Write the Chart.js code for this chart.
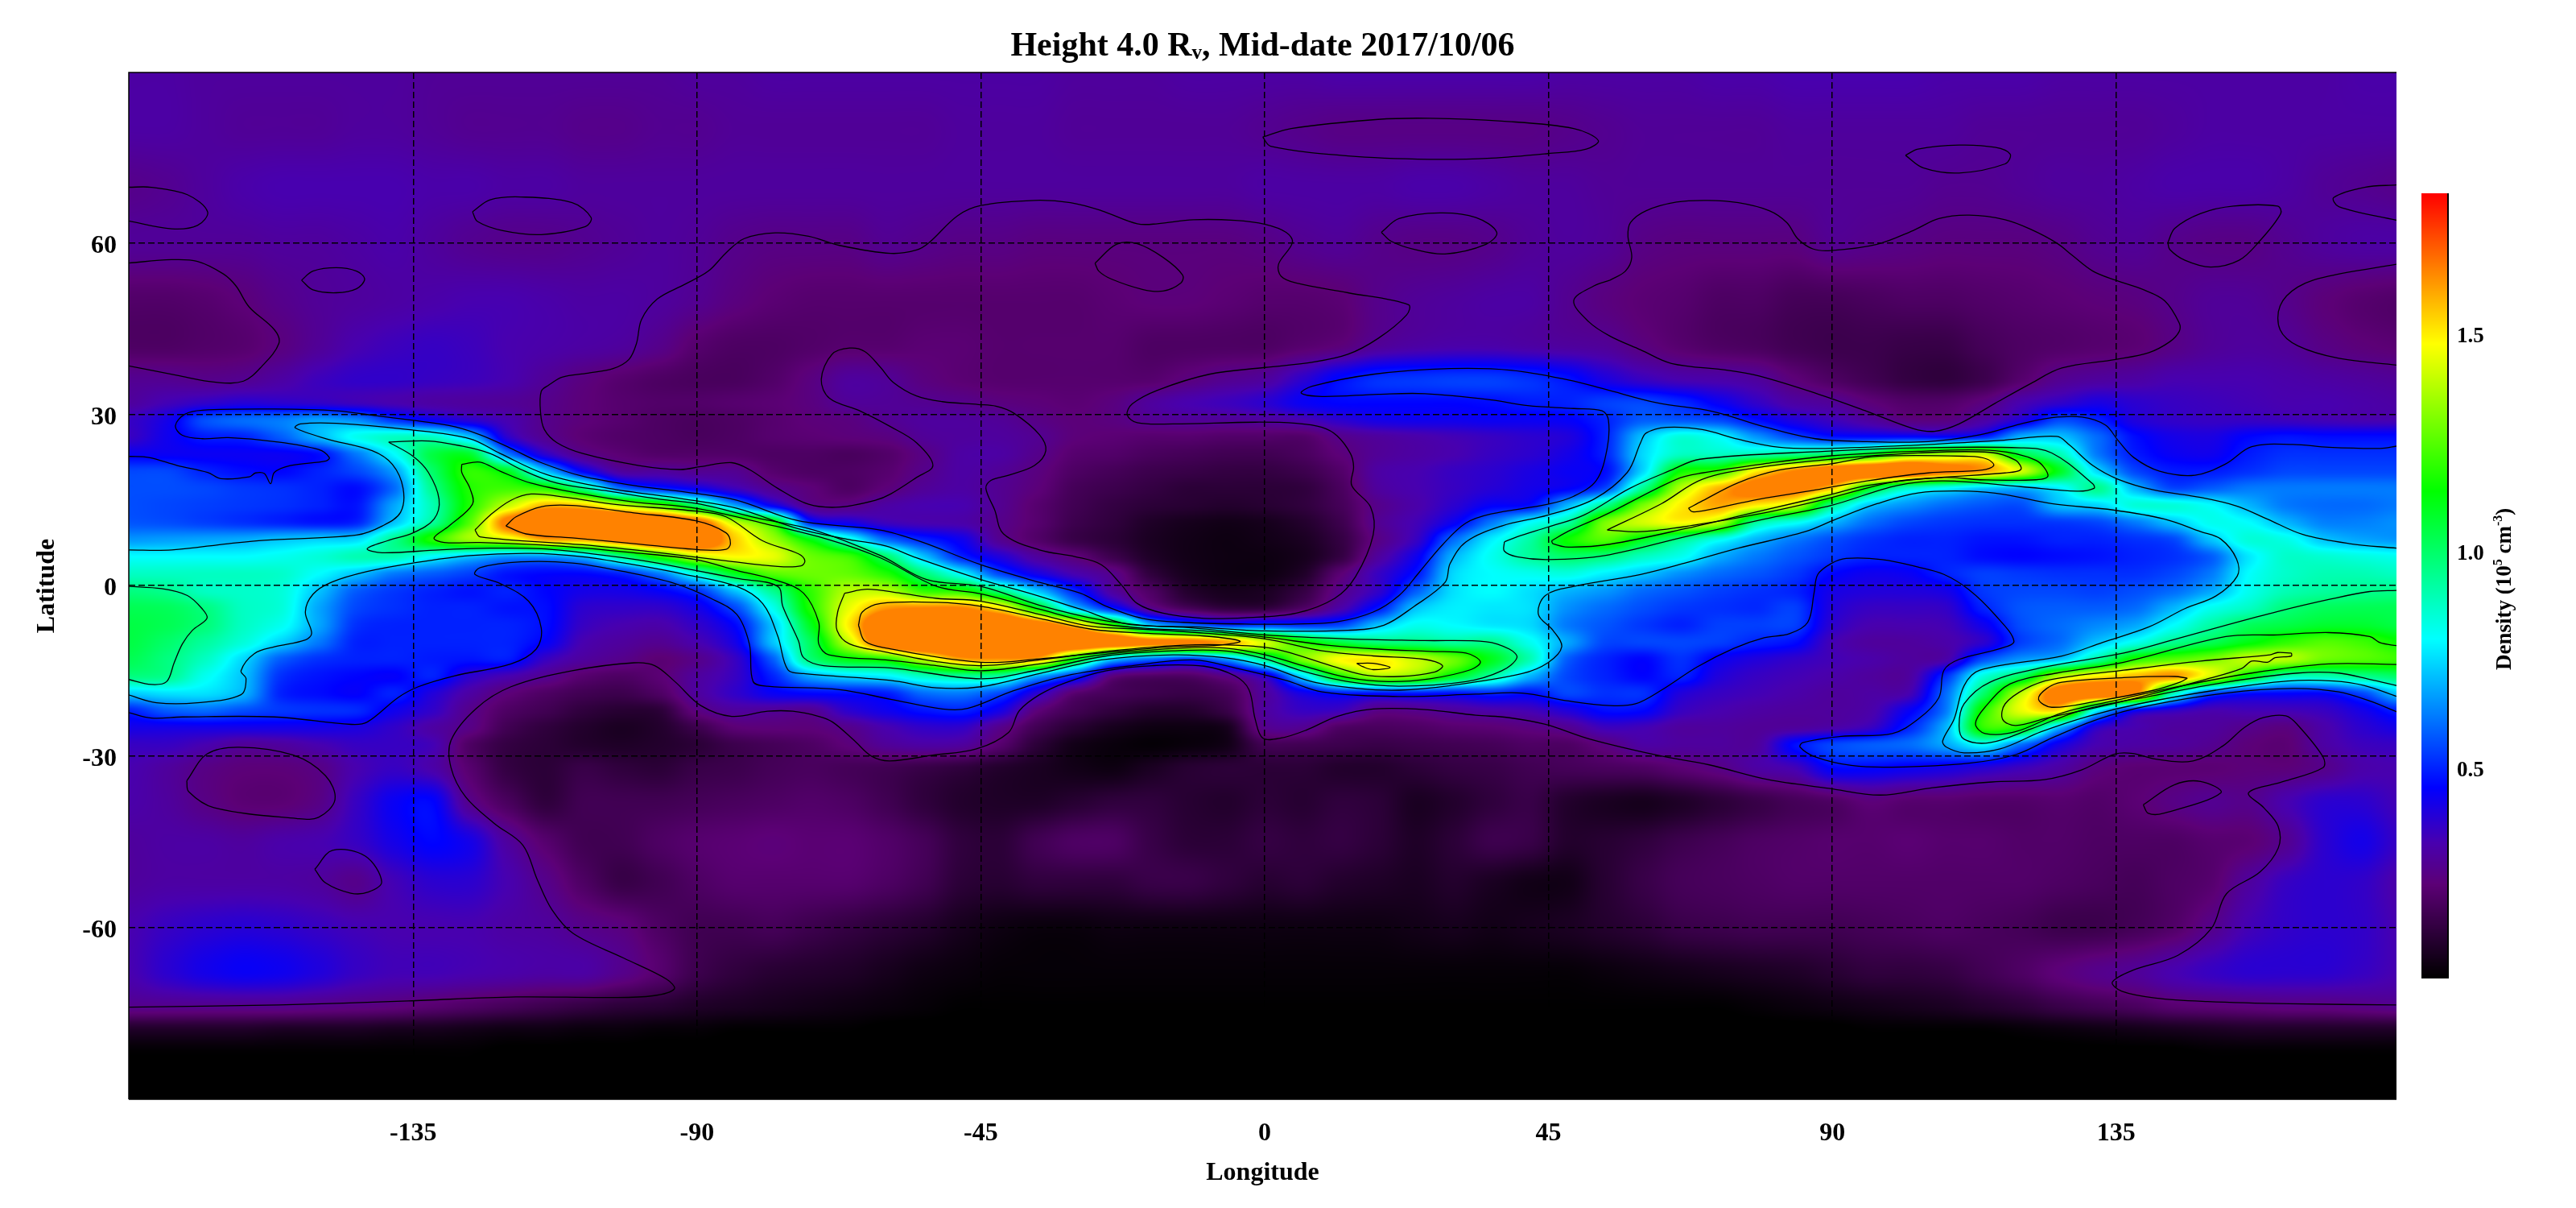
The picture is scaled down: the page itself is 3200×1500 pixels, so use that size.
<!DOCTYPE html>
<html>
<head>
<meta charset="utf-8">
<title>Height 4.0 Rv, Mid-date 2017/10/06</title>
<script src="https://cdn.jsdelivr.net/npm/chart.js@4"></script>
<style>
  body { margin: 0; background: #fff; }
  canvas { position: absolute; top: 0; }
  #map { left: 0; }
  #bar { left: 2990px; }
</style>
</head>
<body>
<canvas id="map" width="3200" height="1500"></canvas>
<canvas id="bar" width="210" height="1500"></canvas>
<script>
const lonTicks = [-135, -90, -45, 0, 45, 90, 135];
const latTicks = [-60, -30, 0, 30, 60];
const barTicks = [0.5, 1.0, 1.5];

const colorStops = [
  [0.018, 0, 0, 0], [0.235, 92, 0, 118], [0.33, 72, 0, 175], [0.457, 0, 0, 255], [0.8, 0, 255, 255],
  [1.14, 0, 255, 0], [1.48, 255, 255, 0], [1.827, 255, 0, 0]
];

const lons = [-180,-174,-168,-162,-156,-150,-144,-138,-132,-126,
  -120,-114,-108,-102,-96,-90,-84,-78,-72,-66,
  -60,-54,-48,-42,-36,-30,-24,-18,-12,-6,
  0,6,12,18,24,30,36,42,48,54,
  60,66,72,78,84,90,96,102,108,114,
  120,126,132,138,144,150,156,162,168,174,180];

const lats = [90,80,70,60,50,42,36,32,29,26,23,20,17,14,11,8,5,2,-1,-4,-7,-10,-13,-16,-19,-22,-25,-28,-32,-38,-45,-52,-60,-68,-74,-78,-82,-90];

// density x 100, one row per entry of lats, one value per entry of lons
const density = [
[31,31,30,30,30,30,30,30,29,29, 29,29,29,29,29,30,30,31,31,31, 31,31,31,31,31,30,30,30,31,31, 31,31,32,32,32,32,32,32,31,31, 31,31,32,32,33,33,33,33,32,32, 32,31,31,31,31,31,31,31,31,32, 32],
[31,31,30,29,29,29,30,30,29,28, 28,28,27,27,28,28,29,29,29,29, 29,29,30,30,30,29,29,29,29,29, 28,27,26,26,26,26,26,26,27,28, 29,29,29,29,30,30,30,30,30,29, 29,29,29,29,30,31,31,31,31,31, 31],
[27,28,30,32,33,33,33,33,32,32, 31,31,30,30,30,30,30,30,30,30, 30,30,30,30,30,30,30,30,30,30, 31,31,31,31,32,32,31,30,30,29, 29,29,29,29,29,29,29,29,28,28, 29,30,30,31,32,32,32,31,29,28, 27],
[29,29,29,29,30,30,31,32,30,28, 27,27,28,29,30,29,27,26,26,26, 28,27,26,26,25,25,25,25,25,25, 26,28,29,27,26,26,27,29,30,29, 26,25,25,25,25,28,27,26,25,25, 25,26,28,29,27,26,26,28,30,31, 31],
[21,21,22,24,27,29,30,31,32,33, 33,32,31,31,30,28,25,23,22,22, 22,22,22,22,22,22,23,24,24,23, 22,22,23,27,29,30,31,31,28,25, 23,22,20,20,18,18,19,20,20,21, 22,23,24,25,27,29,29,27,24,22, 21],
[20,20,21,22,25,29,33,35,36,35, 33,32,31,30,27,22,20,20,21,22, 22,23,23,22,22,22,22,20,20,20, 20,22,24,29,31,32,32,31,30,29, 25,22,20,19,17,16,16,15,15,18, 20,21,22,23,26,29,30,29,26,24, 23],
[28,28,27,28,31,35,37,37,36,35, 33,29,25,22,20,19,19,21,25,30, 29,25,23,22,22,22,22,22,25,28, 30,38,47,52,53,54,54,52,48,41, 36,33,32,30,24,20,17,14,13,16, 22,28,30,31,33,33,33,32,31,30, 29],
[30,34,37,39,38,37,35,33,31,30, 29,27,24,22,21,21,22,23,25,29, 29,28,27,25,24,23,25,30,33,35, 38,44,46,46,46,46,47,49,50,54, 55,51,44,37,31,29,24,21,21,25, 33,37,41,38,36,35,34,33,33,32, 31],
[36,42,56,60,62,67,64,52,44,38, 33,27,24,22,20,19,20,22,24,25, 28,30,30,29,26,24,25,28,29,29, 30,33,38,42,43,43,44,44,45,50, 58,57,55,47,40,35,30,25,25,31, 40,55,50,40,37,36,36,35,34,33, 33],
[36,43,49,50,58,70,82,88,88,72, 38,28,23,21,20,19,20,22,23,24, 25,29,30,30,28,24,23,22,22,21, 21,21,27,30,32,34,36,38,40,50, 72,85,80,66,55,48,47,47,46,50, 70,72,60,47,42,41,46,48,47,47, 47],
[44,44,44,44,44,47,62,80,105,108, 62,38,27,23,21,21,21,20,20,19, 21,26,31,31,27,22,21,19,18,17, 17,19,24,29,31,33,36,38,42,50, 75,88,88,90,95,100,110,130,135,140, 105,90,62,49,44,43,49,52,52,52, 52],
[55,55,50,47,46,50,55,67,100,120, 110,72,45,30,30,28,28,22,20,20, 22,27,31,29,25,20,18,16,15,14, 14,16,21,31,33,36,38,41,44,47, 75,115,120,150,165,180,185,185,170,160, 142,110,75,55,49,49,52,55,55,55, 55],
[56,56,55,53,52,50,47,60,95,118, 122,118,95,60,50,43,35,28,24,20, 24,29,31,28,24,18,16,14,12,12, 12,13,19,30,33,36,39,42,45,55, 95,138,158,172,170,155,110,88,80,73, 70,78,95,70,55,58,62,62,62,62, 62],
[56,55,54,53,52,50,48,68,90,118, 140,158,155,140,125,100,68,44,27,26, 31,33,33,28,22,17,14,12,11,10, 11,13,18,27,32,38,45,47,70,95, 130,150,160,150,140,95,72,65,60,57, 56,71,74,85,85,80,70,62,60,60, 62],
[57,56,54,52,50,48,50,72,93,125, 170,190,190,190,190,175,140,118,50,42, 35,33,32,27,22,16,13,9,7,6, 7,10,16,28,34,44,62,80,92,130, 142,148,138,93,82,70,60,55,53,52, 52,53,55,62,72,82,80,70,63,63, 65],
[66,67,68,69,72,74,75,95,118,135, 142,160,160,170,185,185,155,135,112,85, 60,50,43,28,21,15,12,8,6,5, 6,8,14,26,36,60,78,92,115,125, 110,95,82,70,62,56,52,50,50,48, 48,50,50,52,55,72,85,83,72,68, 66],
[80,80,80,80,82,85,90,90,80,72, 66,66,72,95,118,140,148,145,128,122, 100,72,50,40,30,24,16,9,6,5, 5,7,14,30,43,70,82,93,100,97, 88,82,69,62,57,53,50,50,50,47, 46,47,48,50,52,58,77,87,86,84, 82],
[88,88,88,88,87,80,72,62,58,54, 48,46,46,50,62,85,110,125,128,127, 118,98,80,55,42,33,27,13,7,5, 5,9,23,36,48,75,80,82,84,78, 72,65,60,57,53,46,43,44,50,54, 53,52,52,52,55,62,80,87,90,90, 88],
[97,95,88,87,85,72,58,53,50,48, 50,46,42,42,45,52,72,95,120,138, 138,120,118,97,72,50,30,20,10,7, 8,14,27,37,58,76,80,76,70,66, 60,57,54,52,50,42,40,40,42,53, 55,55,54,56,60,68,82,90,93,95, 96],
[103,102,97,88,85,68,55,52,50,50, 48,47,38,37,37,42,55,82,118,145, 162,165,165,150,112,72,48,27,18,13, 13,20,32,48,72,78,77,76,65,60, 56,53,52,51,54,40,36,36,37,50, 57,58,58,60,70,82,88,98,102,103, 103],
[105,103,98,88,82,68,52,50,50,50, 50,47,36,33,32,37,46,72,110,150, 185,190,190,190,175,155,120,72,60,52, 54,52,55,72,82,80,77,75,62,57, 53,50,54,54,54,38,33,33,34,43, 56,60,64,68,80,92,102,105,108,108, 105],
[105,100,93,85,74,62,50,50,50,50, 50,45,33,30,28,33,42,72,102,140, 180,190,190,190,190,190,180,170,168,160, 142,118,105,98,97,93,95,82,68,55, 55,55,54,50,47,34,30,30,32,38, 54,60,72,82,95,103,112,120,125,122, 115],
[103,97,88,75,58,52,50,50,49,48, 49,36,30,27,23,27,36,58,98,112, 118,140,160,162,158,112,72,60,52,66, 95,130,148,150,140,128,110,90,58,50, 46,52,44,40,37,34,32,30,32,56, 66,72,93,118,125,130,140,138,128,125, 122],
[97,95,82,72,52,48,46,45,50,38, 33,28,22,20,23,30,36,50,68,75, 78,88,93,92,68,50,24,20,20,26, 38,75,116,135,130,110,92,70,55,50, 46,50,40,36,34,32,30,30,52,85, 102,138,150,158,162,142,112,90,90,95, 100],
[73,76,76,70,50,47,45,50,40,31, 24,20,17,16,20,30,37,44,46,47, 49,60,62,55,38,22,18,16,15,18, 30,42,48,47,48,47,50,47,55,52, 52,40,36,34,32,30,31,33,60,100, 140,175,180,165,90,55,47,46,46,55, 73],
[50,58,60,56,53,52,51,43,37,27, 20,17,13,11,12,25,30,29,28,38, 43,48,50,42,24,17,13,10,10,15, 30,36,35,26,27,30,32,34,40,47, 46,36,33,31,30,30,32,44,62,118, 145,150,78,45,37,33,34,34,36,42, 50],
[42,42,42,42,42,42,41,37,31,26, 17,13,10,8,10,16,23,24,24,27, 33,37,37,27,17,11,7,5,5,7, 27,28,20,19,20,22,23,25,28,35, 34,30,30,29,30,32,36,50,70,120, 115,70,38,33,30,30,27,25,32,38, 42],
[36,36,33,29,30,33,36,36,34,20, 14,12,10,9,10,12,16,18,20,24, 29,31,30,22,12,6,4,3,4,6, 17,17,16,15,16,17,18,20,20,25, 31,30,30,30,47,55,58,60,68,80, 60,42,33,31,30,28,24,23,31,35, 36],
[33,30,26,24,24,26,33,36,32,22, 14,12,15,13,12,15,16,18,19,18, 17,15,13,10,8,6,5,8,11,12, 12,12,10,10,12,14,15,17,18,19, 20,23,26,31,34,46,46,44,42,39, 35,31,25,23,23,23,24,24,27,32, 33],
[32,30,26,23,23,26,36,44,46,27, 19,13,17,17,17,18,19,20,21,20, 17,13,10,9,9,11,13,13,11,10, 12,11,13,12,8,10,13,15,10,8, 7,9,12,15,18,20,24,22,22,21, 21,22,21,23,26,28,27,33,38,38, 34],
[30,31,31,30,32,33,36,42,46,42, 30,22,17,17,20,22,23,24,23,23, 21,18,13,12,17,20,20,15,12,12, 14,13,14,12,9,12,16,15,10,11, 13,16,18,20,21,22,22,23,22,22, 21,21,20,20,20,22,23,28,38,42, 36],
[30,31,31,31,31,30,27,34,38,38, 33,27,20,15,17,20,22,22,22,22, 20,17,12,11,13,13,13,15,15,13, 11,12,10,9,8,10,8,6,6,11, 15,18,19,20,21,21,21,21,21,21, 21,20,19,18,20,22,30,36,38,37, 32],
[33,36,38,39,38,36,34,33,33,33, 31,30,27,25,20,17,17,18,16,14, 12,10,7,5,4,4,5,5,5,5, 5,5,5,5,6,7,6,7,8,10, 12,15,16,17,17,17,18,19,20,19, 18,16,16,18,21,27,34,37,38,37, 33],
[33,38,42,44,43,40,36,34,34,33, 32,31,31,27,22,16,13,11,10,9, 7,5,4,3,3,3,3,3,3,3, 3,3,3,3,3,3,3,3,3,4, 5,6,7,8,9,11,13,13,14,17, 20,24,27,29,33,36,38,38,38,36, 33],
[27,27,27,27,27,26,25,24,22,20, 18,16,14,12,11,9,8,7,6,5, 4,3,2,2,2,2,2,2,2,2, 2,2,2,2,2,2,2,2,2,2, 2,2,2,3,4,5,6,7,8,10, 12,15,17,19,22,23,24,25,25,26, 27],
[9,9,9,9,8,8,8,7,7,6, 5,5,4,4,3,3,2,2,2,2, 1,1,1,1,1,1,1,1,1,1, 1,1,1,1,1,1,1,1,1,1, 1,1,1,1,1,1,2,2,2,2, 3,4,5,6,7,8,9,9,9,9, 9],
[2,2,2,2,2,2,2,2,2,2, 1,1,1,1,1,1,1,1,1,1, 1,1,1,1,1,1,1,1,1,1, 1,1,1,1,1,1,1,1,1,1, 1,1,1,1,1,1,1,1,1,1, 1,1,1,1,1,2,2,2,2,2, 2],
[1,1,1,1,1,1,1,1,1,1, 1,1,1,1,1,1,1,1,1,1, 1,1,1,1,1,1,1,1,1,1, 1,1,1,1,1,1,1,1,1,1, 1,1,1,1,1,1,1,1,1,1, 1,1,1,1,1,1,1,1,1,1, 1]
];

// contour lines as [lon, lat]
const northLoops = [
  [[-180.2,69.8],[-176.5,69.8],[-170.8,68.5],[-167.6,65.5],[-169.2,63.1],[-173.3,62.5],[-180.2,63.9]],
  [[-125.6,65.5],[-122.8,67.6],[-117.9,68.1],[-109.8,67.1],[-106.8,64.5],[-107.7,62.9],[-114.7,61.5],[-120.8,62.2],[-124.8,63.8],[-125.6,65.5]],
  [[-152.7,53.5],[-150.9,55.1],[-147.2,55.7],[-144,55.1],[-142.7,53.7],[-144,52],[-147.2,51.3],[-150.9,51.8],[-152.7,53.5]],
  [[-180.2,56.5],[-173.3,57.1],[-169.2,56.8],[-165.1,54.6],[-163.1,52.5],[-161,48.8],[-157,44.8],[-156.3,42.4],[-159,38.4],[-161.9,35.8],[-166.3,35.6],[-172.4,36.8],[-180.2,38.5]],
  [[-26.9,56.5],[-23.5,59.8],[-20.2,59.9],[-16.1,57.5],[-13,54.4],[-13.3,53],[-16.1,51.6],[-19.4,51.9],[-24.3,53.7],[-26.3,55.1],[-26.9,56.5]],
  [[-0.3,78.6],[4.2,80.1],[18,81.7],[26.2,81.9],[37.6,81.4],[49,80.1],[52.9,78],[51,76.5],[44.9,75.7],[35.9,74.9],[26.2,74.7],[13.2,75.3],[0.95,77],[-0.3,78.6]],
  [[18.5,61.9],[21.3,64.3],[27.8,65.3],[33.5,64.5],[36.8,61.9],[35.1,59.8],[28.6,58.1],[23.7,58.9],[20.1,60.3],[18.5,61.9]],
  [[101.6,75.4],[103.6,76.5],[110.1,77.2],[115.8,76.8],[118.2,75.6],[117.4,73.9],[110.1,72.3],[104.4,73.2],[101.6,75.4]],
  [[143.2,60.1],[144.3,62.6],[148.4,65.2],[153.6,66.5],[160.6,66.5],[161.1,65.2],[157.7,60.3],[154.5,57],[150,55.8],[145.9,57],[143.5,58.9],[143.2,60.1]],
  [[179.5,70.2],[174.4,69.8],[169.5,68],[170.3,66.4],[179.5,64]],
  [[179.5,56.3],[168.7,54.2],[163.8,52.3],[161,49],[161,44.8],[163.8,42],[170.3,39.8],[179.5,38.6]]
];
const southLoops = [
  [[-170.9,-34.3],[-167.7,-29.6],[-162.6,-28.4],[-154,-29.8],[-148.9,-33.4],[-147.4,-37.6],[-150,-40.7],[-153.5,-40.9],[-166.6,-39],[-170.6,-36.2],[-170.9,-34.3]],
  [[-150.6,-49.8],[-147.8,-46.5],[-142.6,-47.5],[-140,-52],[-142.1,-53.8],[-144.9,-54],[-148.9,-52.2],[-150.6,-49.8]],
  [[139.3,-38.5],[144.2,-35],[148.4,-34.4],[151.6,-36.4],[142.5,-40],[140.1,-40],[139.3,-38.5]]
];
const contourNorthWest = [[-113.4,35.2],[-111.4,36.5],[-107.3,37.2],[-103.3,38],[-100.8,39.6],[-99.6,42.4],[-98.8,46.6],[-96.3,50.2],[-91.9,52.8],[-88.2,55.1],[-85.3,58.4],[-82.5,60.8],[-77.6,61.8],[-72.3,61.2],[-67.4,59.6],[-59.3,58.2],[-55.2,58.8],[-53.2,60.1],[-48.7,64.8],[-45,66.6],[-36.5,67.5],[-30.8,67.1],[-25.9,65.7],[-20.2,63.4],[-17,63.4],[-11.3,64.1],[-4.7,64],[0.1,63.3],[3.4,61.9],[4.4,60.1],[2.2,56.3],[2.6,54.2],[5,53],[13.2,51.3],[22.8,49.2],[22.5,47.4],[18,43.3],[13.2,40.5],[7.5,39.1],[0.1,38.2],[-8.8,37],[-17,34.2],[-21,31.8],[-21.8,29.9],[-20.2,28.5],[-14.5,28.3],[-1.5,28.6],[5,28.4],[9.1,27.7],[11.5,26.2],[13.6,23.1],[14.1,20.8],[13.8,17.5],[16.8,13.7],[17.2,8.8],[14.4,1.5],[11.1,-2.3],[5,-4.9],[-3.1,-5.7],[-9.6,-5.8],[-16.1,-4.9],[-20.2,-3.2],[-22.7,0.05],[-25.9,3.6],[-30,5],[-35.7,6.2],[-41.4,9],[-42.8,13.2],[-44.2,17],[-43.4,18.4],[-40.6,19.3],[-36.5,21],[-34.7,23.6],[-35.7,26.4],[-39.8,30.2],[-42.6,31.4],[-45.4,31.7],[-51.1,32.2],[-55.2,33.2],[-58.9,35.6],[-60.9,38.2],[-63.4,41],[-65.8,41.6],[-68.6,40.5],[-70.3,36.1],[-69,32.8],[-64.2,30.6],[-59.3,27.8],[-55.2,25],[-52.6,21],[-55.2,18.9],[-59.3,16],[-61.7,14.9],[-67.4,13.7],[-72.3,14.2],[-77.2,17],[-81.7,20.3],[-84.5,21.5],[-89.4,20.8],[-92.7,20.3],[-99.2,21],[-108.1,23.1],[-112.2,25],[-114.2,27.3],[-114.8,30.2],[-114.7,34],[-113.4,35.2]];
const contourNorthEast = [[54.75,53.5],[52.2,52.5],[49,49.9],[51.4,46.2],[54.75,43.7],[59.6,41.3],[64.5,38.9],[73.5,37.7],[78.4,36.7],[87.3,33.7],[95.5,30.5],[102.8,27.5],[106.2,27],[110.1,28.3],[115.8,31.9],[121.5,35.4],[126.4,38.1],[134.9,39.6],[140.2,40.8],[143.5,42.7],[145,44.5],[145,46],[142.7,49.9],[139.4,51.8],[134.9,53.5],[131.3,55.1],[128,57.9],[125.6,60],[121.5,62.4],[117.4,64.1],[111.7,64.9],[106.9,64.3],[102.8,62.2],[97.1,59.8],[89.8,58.7],[86.9,59],[84.5,60.8],[82.8,63.6],[80,65.7],[75.1,67.1],[70.2,67.5],[65.3,67.2],[60.5,65.7],[58,63.6],[57.6,61.2],[58.2,57.5],[57.2,55.1],[54.75,53.5]];
const contourSouth = [[-180.3,-74],[-156.3,-73.6],[-135.8,-72.9],[-118.7,-72.2],[-103.9,-72.3],[-97,-72],[-93.6,-70.8],[-94.8,-69.1],[-101.6,-65.4],[-109.6,-61.1],[-113,-56.9],[-115.3,-51.7],[-117.6,-45.6],[-122.1,-41.8],[-126.7,-37.1],[-129,-32],[-129,-27.2],[-125,-21.6],[-119.5,-17.8],[-109.8,-15],[-100,-13.6],[-96.7,-14.1],[-93.5,-16.9],[-89.4,-21.1],[-84.5,-23],[-78.8,-22.1],[-74.8,-22.1],[-70.7,-23],[-68.5,-24],[-65.1,-27.2],[-62.3,-30],[-59.4,-30.8],[-52.6,-29.8],[-45.7,-28.7],[-40.6,-25.8],[-38.9,-22],[-35.7,-19.2],[-31.6,-17.1],[-25.1,-15],[-17.8,-14.1],[-9.6,-14.2],[-4.7,-15.9],[-2.5,-18.3],[-1.5,-23.5],[-0.3,-26.8],[2.6,-26.8],[6.6,-25.4],[11.5,-23],[17.2,-21.7],[25.4,-21.8],[33.5,-22.8],[38.6,-23.2],[44.5,-24.4],[51.6,-27],[62.2,-29.8],[70.5,-31.5],[79.9,-34.1],[89.4,-35.6],[97.6,-36.8],[105.9,-35.5],[115.3,-34.5],[123.6,-34.1],[129.5,-32.4],[134.8,-29.6],[137.7,-29.5],[141.3,-30.5],[147.2,-30.8],[151.9,-28.2],[155.4,-24.9],[158.4,-23.2],[161.9,-22.9],[163.7,-24.4],[167.8,-30.1],[167.8,-32],[161.3,-34.5],[156,-36.4],[158.4,-39],[160.7,-42.3],[160.7,-46.1],[157.8,-50.3],[152.5,-54.1],[150.1,-60.2],[144.8,-64.9],[137.7,-67.5],[134.4,-69.6],[135.9,-71.2],[141.3,-72.4],[149.5,-73],[162.5,-73.4],[179.4,-73.6]];
const contourBlueNorth = [[-180.2,22.6],[-176.9,22.4],[-172.4,21],[-167.6,19.8],[-165.5,18.7],[-161,19],[-160,19.7],[-158.6,19.6],[-157.6,17.8],[-157,19.8],[-154.5,21],[-148.8,21.8],[-148.3,22.4],[-150,23.8],[-157,25.2],[-164.3,25.9],[-168.4,25.7],[-171.6,26.3],[-172.7,28],[-171.2,30],[-168.4,30.7],[-157,30.9],[-147.2,30.6],[-140.7,29.7],[-129.3,28],[-124.4,26.4],[-119.5,24],[-114.7,21.5],[-108.1,19.1],[-100,17.5],[-90.2,16.1],[-83.7,14.9],[-73.9,11.3],[-61,9.7],[-54.4,7.6],[-45,3.6],[-35.7,0.5],[-29.2,-1.4],[-25.1,-3.7],[-19.4,-5.8],[-12.9,-6.5],[-3.1,-6.8],[5,-6.8],[11.5,-6.4],[17.2,-4.7],[21.3,-1.8],[24.6,2.4],[28.2,7.1],[31.9,10.9],[35.9,12.5],[44.9,14.2],[49,15.6],[52.6,18.4],[54.3,24],[54.5,29],[53.5,30.6],[49,31],[41.7,31.5],[36,32.5],[25.4,33.6],[18,33.5],[9.1,33.1],[5.8,33.7],[7.5,34.9],[17.2,37],[29.4,38],[39.2,37.7],[48.2,36],[53.9,34.4],[62.2,32],[71,30.5],[79.2,27.8],[87.3,25.7],[95.5,25.2],[105.2,25.2],[113.4,26.4],[119.9,28.3],[124.8,29.4],[129.6,29.5],[133.3,28.1],[135.3,25.4],[137.8,22.4],[141.9,20],[147.5,19.3],[152.4,21.3],[156.5,24.3],[163,24.7],[168.7,24.2],[176.9,24],[179.5,24.4]];
const contourBlueSouth = [[-180.2,-22.3],[-176.5,-23.3],[-171.6,-23.1],[-157,-23.1],[-144.8,-24.4],[-142.3,-24],[-137.4,-19.7],[-134.2,-17.8],[-128.5,-15.9],[-119.5,-13.8],[-115.5,-11.2],[-114.7,-7.5],[-116.7,-2.8],[-121.2,0.3],[-125.2,1.9],[-124.4,3.1],[-117.9,4.1],[-109.8,3.9],[-101.6,2.4],[-93.5,0.3],[-87.8,-2.3],[-83.7,-5.1],[-81.7,-10.3],[-81.1,-16.9],[-78.8,-17.7],[-67.4,-18.3],[-59.3,-20],[-51.1,-21.7],[-47.1,-21.6],[-39.8,-18.5],[-31.6,-15.9],[-21,-14.1],[-11.3,-13.1],[-4.7,-14.5],[3.4,-16.7],[9.1,-18.7],[21.3,-19.5],[33.5,-19.1],[40.8,-18.9],[48.2,-20.3],[54.7,-21.1],[58.8,-20.8],[62.9,-18.4],[68.6,-14.3],[74.3,-11.1],[79.2,-9.2],[83.2,-8.5],[86.1,-6.5],[87.1,-1.4],[87.7,1.9],[89.8,3.8],[92.2,4.7],[97.9,4.5],[103.6,3.2],[107.7,1.9],[111.7,-0.8],[115.8,-5.2],[118.8,-9.8],[116.6,-11.1],[110.1,-13],[107.7,-14.9],[106.9,-19.7],[103.6,-23.5],[99.5,-26],[91.4,-26.5],[85.3,-27.6],[84.9,-28.4],[87.3,-30.1],[93,-31.6],[99.5,-31.9],[111.7,-31.2],[119.1,-29.7],[124.8,-26.8],[132.1,-23.5],[140.2,-21.1],[152.4,-18.9],[163,-18.1],[170.3,-18.7],[175.2,-20.3],[179.5,-22.2]];
const contourCyanNorth = [[-180.2,6.2],[-173.3,6.2],[-164.3,7.3],[-158.6,7.9],[-144,8.8],[-139.9,10.4],[-137,12.8],[-136.6,17],[-138.3,21.2],[-141.5,23.6],[-148.8,25.7],[-153.7,27.6],[-152.9,28.3],[-147.2,28.4],[-135.8,27.3],[-126,25.7],[-121.2,23.1],[-113.8,19.4],[-104,17],[-91.9,15.1],[-83.7,13.5],[-73.9,9.9],[-65.8,8],[-60.1,6.9],[-55.2,4.8],[-45,1],[-37.3,-1.4],[-29.2,-4.2],[-21.8,-6.8],[-11.3,-7.3],[0.1,-8],[13.2,-7.9],[18.9,-7],[23.7,-3.7],[28.6,0.5],[29.4,3.8],[31.9,7.6],[37.6,10.4],[44.9,12.3],[52.2,15.1],[57.5,19.8],[59.6,25],[60.5,26.7],[63.7,27.7],[69.4,27.3],[75.1,25.6],[81.6,24.2],[88.9,24],[103.6,24.6],[116.6,25.4],[125.6,26.1],[127.6,24.6],[131.3,21],[135.3,18.6],[141,16.7],[148.4,15.4],[154.1,13.9],[159,11.6],[164.6,8.9],[172,7.3],[179.5,6.5]];
const contourCyanSouth = [[-180.2,-19.2],[-175.7,-20.6],[-169.2,-20.6],[-162.3,-19.2],[-161.5,-16.4],[-162.3,-15],[-160.2,-12],[-157,-10.8],[-152.1,-9.6],[-151.1,-8.4],[-152.1,-4.7],[-150.9,-1.6],[-148,0.5],[-142.3,2.4],[-135,3.9],[-126,5.2],[-116.3,5.6],[-108.1,5],[-100,3.6],[-91.9,1.9],[-83.7,-0.2],[-79.6,-3.2],[-77.2,-8.9],[-75.6,-14.8],[-73.1,-15.5],[-59.3,-16.7],[-52,-18],[-45,-17.8],[-35.7,-15.5],[-25.9,-13.1],[-14.5,-12.2],[-6.4,-12.7],[0.1,-14.1],[7.5,-16.9],[14.8,-18.1],[21.3,-18.4],[29.4,-17.6],[40.8,-15.5],[44.9,-13.6],[47.1,-10.8],[45.7,-7.9],[43.4,-5.1],[44.5,-1.8],[49,-0.2],[59.6,1.9],[67,4],[75.1,6.5],[85.7,9.4],[90.6,11.6],[97.1,14.3],[103.6,16.2],[111.7,16.5],[117.4,15.9],[124.8,14.3],[134.5,13.2],[142.7,11.6],[148.4,9.4],[151.6,8.1],[154.1,4.6],[154.2,1.6],[150.8,-1.9],[145.9,-4.1],[140.2,-7.3],[132.9,-10],[126.4,-12.4],[113.4,-14.9],[110.9,-17.6],[109.3,-23.5],[107.5,-27.3],[108.1,-28.4],[110.9,-29.4],[116.6,-28.7],[123.1,-25.7],[130.5,-23],[138.6,-20.8],[150.8,-18.4],[162.2,-16.8],[169.5,-16.8],[174.4,-17.6],[179.5,-19.5]];
const contourGreenIsland = [[-180.2,-0.2],[-174.9,-0.6],[-170.8,-1.8],[-168.4,-4.2],[-167.7,-5.8],[-170,-7.9],[-171.6,-10.3],[-172.9,-13.6],[-174.1,-16.9],[-176.5,-17.4],[-180.2,-16.5]];
const contourGreenWest = [[-138.9,25.1],[-132.6,25.3],[-127.7,24.5],[-122.8,23.1],[-117.9,20.3],[-112.2,17.9],[-104,16.5],[-95.9,15.1],[-89.4,14.2],[-80.5,11.8],[-71.5,9.7],[-60.9,5.2],[-53.6,1],[-45,-0.2],[-35.7,-3.5],[-25.9,-6.1],[-19.4,-7],[-11.3,-7.5],[0.1,-8.7],[13.2,-9.4],[25.4,-9.7],[35.1,-9.9],[38.8,-11.2],[40,-12.7],[37.6,-15],[31.9,-16.9],[21.3,-17.7],[13.2,-16.9],[5.8,-15],[0.1,-12.9],[-6.4,-11.5],[-14.5,-11.5],[-25.1,-12.4],[-35.7,-14.8],[-45,-16.4],[-59.3,-14.5],[-69.9,-14.1],[-73.1,-12.7],[-73.9,-9.8],[-76.4,-3.7],[-77.2,-0.2],[-83.7,1.2],[-90.2,2.6],[-98.4,4.3],[-106.5,5.5],[-114.7,6.4],[-122.8,6.5],[-130.9,6.2],[-139.9,5.7],[-142.3,6.4],[-139.1,7.8],[-135,9.2],[-131.7,11.6],[-130.9,15.1],[-132.6,19.8],[-135,22.6],[-138.9,25.1]];
const contourLimeWest = [[-127.3,21.2],[-124.4,21.6],[-121.2,20],[-116.3,17.9],[-108.1,16],[-100,14.6],[-90.2,13.5],[-79.6,10.9],[-69.1,8],[-60.9,4.8],[-52,-0.2],[-45,-1.5],[-35.7,-4.2],[-27.5,-6.5],[-19.4,-7.5],[-9.6,-8],[0.1,-9.1],[9.9,-10.5],[18,-11.2],[26.2,-11.6],[31.9,-11.9],[34.2,-13.4],[32.7,-14.8],[26.2,-16.4],[19.7,-16.9],[13.2,-16.2],[6.6,-14.3],[0.1,-12.2],[-6.4,-11],[-12.9,-11],[-24.3,-12],[-35.7,-13.8],[-45,-15],[-52,-14.1],[-60.1,-13.1],[-69.1,-12.2],[-70.7,-10.3],[-70.7,-6.5],[-73.1,-1.4],[-77.2,0.8],[-83.7,2.6],[-90.2,4.5],[-100,5.7],[-112.2,6.9],[-124.4,7.5],[-130.1,7.5],[-131.7,8.3],[-129.3,10.4],[-125.6,14.2],[-126,17],[-127.3,19.8],[-127.3,21.2]];
const contourYellowWest = [[-125.2,9.7],[-122.8,12.3],[-119.5,14.9],[-116.3,16],[-110.6,15.4],[-103.2,14.2],[-90.2,13],[-85.4,12],[-79.6,7.8],[-73.9,5.5],[-72.9,4.3],[-73.5,3.4],[-77.2,3.3],[-85.4,4.3],[-95.9,5.7],[-108.1,7.1],[-124.4,8.5],[-125.2,9.7]];
const contourOrangeWest = [[-120.3,10.4],[-118.7,12],[-114.6,13.8],[-109.8,14],[-100,12.7],[-90.2,11.3],[-85.4,9.2],[-84.7,7.3],[-85.4,6.3],[-89.4,6.2],[-100,7.3],[-109.8,8.3],[-117.1,9],[-120.3,10.4]];
const contourYellowMid = [[-66.6,-1.4],[-63,-0.7],[-57.7,-1.4],[-52,-2.3],[-45,-2.8],[-35.7,-5.1],[-27.5,-7.2],[-19.4,-7.7],[-9.6,-8.4],[0.1,-9.4],[9.1,-11.5],[17.2,-12.4],[25.4,-13],[28.2,-14.1],[27,-15.2],[21.3,-16],[15.6,-15.7],[9.1,-13.6],[1.8,-11.2],[-4.7,-10.5],[-12.9,-10.5],[-24.3,-11.5],[-35.7,-13.1],[-45,-14.1],[-52,-13.4],[-60.1,-11.7],[-65.8,-10.3],[-67.8,-7.9],[-67.7,-4.7],[-66.6,-1.4]];
const contourOrangeMid = [[-64.4,-7],[-63.8,-4.7],[-60.9,-3.2],[-52,-3],[-45,-3.7],[-35.7,-5.8],[-27.5,-7.7],[-19.4,-8.4],[-9.6,-8.9],[-3.9,-9.8],[-7.2,-10.5],[-14.5,-10.8],[-24.3,-11.7],[-35.7,-12.9],[-45,-13.5],[-60.1,-11],[-63.4,-9.8],[-64.4,-7]];
const contourOrangeDot = [[14.6,-13.7],[17.2,-13.7],[19.9,-14.4],[17.2,-14.8],[15.6,-14.3],[14.6,-13.7]];
const contourGreenUpper = [[38,7.6],[40,8.5],[44.9,10.2],[50.6,12.3],[57.9,17],[64.5,20.2],[69,22.1],[88.9,23.5],[103.6,24.1],[119.9,24.1],[124.8,23.2],[131.3,17.8],[131.5,17],[128.8,16.5],[119.9,17.3],[107.7,18.3],[100.3,17.5],[89.8,14],[79.2,11.6],[67,8.6],[53.9,5.2],[44.9,4.5],[40,5],[38,6],[38,7.6]];
const contourLimeUpper = [[45.5,7.8],[48.2,9.5],[53.9,12.3],[65.3,18.6],[69.4,19.7],[79.2,21.3],[89.8,22.7],[103.6,23.5],[115.8,23.6],[122.3,21.9],[124.2,19.2],[122.3,18.5],[113.4,18.5],[107.7,18.9],[95.5,17.5],[89.8,15.9],[79.2,13.2],[67,10],[54.75,7.2],[48.2,6.7],[45.7,7.3],[45.5,7.8]];
const contourYellowUpper = [[54.3,9.7],[62.9,14.3],[69.4,18.6],[79.2,20.8],[89.8,22.1],[103.6,23.2],[115,23.3],[119.1,21.9],[119.9,20.3],[117.4,19.7],[106.9,18.9],[99.5,18.1],[88.9,15.1],[79.2,12.7],[67.8,10.5],[59.6,9.4],[54.3,9.7]];
const contourOrangeUpper = [[67.2,13.5],[69.4,14.8],[75.1,18],[81.6,20.2],[89.8,21.3],[97.1,22.6],[111.7,22.6],[114.6,22.1],[115.6,21],[113.8,20.2],[105.2,19.7],[95.5,18.3],[87.3,16.7],[78.4,15.1],[69.8,13.1],[67.8,12.9],[67.2,13.5]];
const contourGreenLower = [[179.5,-0.9],[175.2,-1.1],[168.7,-2.5],[160.6,-4.6],[152.4,-7],[144.3,-9.5],[136.2,-11.9],[123.9,-14.3],[115,-17],[110.9,-20.8],[110.1,-24.6],[110.9,-27],[115,-27.6],[121.5,-25.2],[129.6,-21.9],[140.2,-19.5],[152.4,-17],[163.8,-15.4],[170.3,-15.4],[175.2,-16.5],[179.5,-17.6]];
const contourLimeLower = [[179.5,-10.6],[176.9,-10.1],[175.2,-9],[168.7,-8.3],[160.6,-8.7],[152.4,-9],[136.2,-13.5],[125.6,-15.4],[118.2,-17.3],[114.2,-21.4],[112.7,-24.3],[114.2,-26],[119,-25.7],[126.4,-22.4],[134.5,-20.3],[144.3,-17.9],[156.5,-15.4],[168.7,-13.8],[179.5,-13.9]];
const contourYellowLower = [[162.8,-11.9],[162.8,-12.4],[160.2,-12.7],[159,-13.5],[156.5,-13.3],[154.9,-14.6],[149.2,-16.5],[140.2,-19.2],[132.1,-21.4],[124,-23.3],[119.1,-24.6],[117,-23.5],[117.4,-20.8],[120.7,-18.1],[124.8,-16.5],[136.2,-14.9],[148.4,-13.3],[159.4,-12.2],[160.6,-11.8],[162.8,-11.9]];
const contourOrangeLower = [[146.3,-16.3],[145.1,-17],[141,-18.4],[132.1,-20.3],[124.8,-21.4],[122.7,-20],[124,-18.1],[126.4,-17],[136.2,-16.2],[144.3,-16],[146.3,-16.3]];

const contours = [...northLoops, ...southLoops, contourNorthWest, contourNorthEast, contourSouth,
  contourBlueNorth, contourBlueSouth, contourCyanNorth, contourCyanSouth, contourGreenIsland,
  contourGreenWest, contourLimeWest, contourYellowWest, contourOrangeWest, contourYellowMid,
  contourOrangeMid, contourOrangeDot, contourGreenUpper, contourLimeUpper, contourYellowUpper,
  contourOrangeUpper, contourGreenLower, contourLimeLower, contourYellowLower, contourOrangeLower];

Chart.defaults.font.family = '"Liberation Serif", serif';
Chart.defaults.font.weight = 'bold';
Chart.defaults.color = '#000';

function colorAt(v) {
  if (v <= colorStops[0][0]) return colorStops[0].slice(1);
  for (let i = 1; i < colorStops.length; i++) {
    const a = colorStops[i - 1], b = colorStops[i];
    if (v <= b[0]) {
      const t = (v - a[0]) / (b[0] - a[0]);
      return [a[1] + (b[1] - a[1]) * t, a[2] + (b[2] - a[2]) * t, a[3] + (b[3] - a[3]) * t];
    }
  }
  return colorStops[colorStops.length - 1].slice(1);
}

function spline(p0, p1, p2, p3, t) {
  const m1 = (p2 - p0) * 0.35, m2 = (p3 - p1) * 0.35;
  const t2 = t * t, t3 = t2 * t;
  return (2 * t3 - 3 * t2 + 1) * p1 + (t3 - 2 * t2 + t) * m1 + (-2 * t3 + 3 * t2) * p2 + (t3 - t2) * m2;
}

// smooth shading of the grid cells, placed through the chart's own scales
const densityField = {
  id: 'densityField',
  beforeDatasetsDraw(chart) {
    const { ctx, chartArea: area, scales } = chart;
    const left = Math.round(area.left), top = Math.round(area.top);
    const w = Math.round(area.right) - left, h = Math.round(area.bottom) - top;
    const img = ctx.createImageData(w, h);
    const nc = lons.length, nr = lats.length;
    const colIdx = new Float64Array(w);
    for (let x = 0; x < w; x++) {
      const lon = scales.x.getValueForPixel(left + x + 0.5);
      colIdx[x] = Math.min(nc - 1.001, Math.max(0, (lon - lons[0]) / (lons[1] - lons[0])));
    }
    const col = new Float64Array(nc);
    for (let y = 0; y < h; y++) {
      const lat = scales.y.getValueForPixel(top + y + 0.5);
      let j = 0;
      while (j < nr - 2 && lats[j + 1] > lat) j++;
      const ty = Math.min(1, Math.max(0, (lats[j] - lat) / (lats[j] - lats[j + 1])));
      const r0 = density[Math.max(0, j - 1)], r1 = density[j], r2 = density[j + 1], r3 = density[Math.min(nr - 1, j + 2)];
      for (let c = 0; c < nc; c++) col[c] = spline(r0[c], r1[c], r2[c], r3[c], ty) / 100;
      for (let x = 0; x < w; x++) {
        const i = Math.floor(colIdx[x]), tx = colIdx[x] - i;
        let v = spline(col[Math.max(0, i - 1)], col[i], col[i + 1], col[Math.min(nc - 1, i + 2)], tx);
        v = Math.min(1.65, v); // the map saturates at orange
        const rgb = colorAt(v), k = (y * w + x) * 4;
        img.data[k] = rgb[0]; img.data[k + 1] = rgb[1]; img.data[k + 2] = rgb[2]; img.data[k + 3] = 255;
      }
    }
    ctx.putImageData(img, left, top);
  },
  afterDraw(chart) {
    const { ctx, chartArea: area } = chart;
    ctx.save();
    ctx.strokeStyle = '#000';
    ctx.lineWidth = 1.5;
    ctx.beginPath();
    ctx.moveTo(area.left, area.bottom);
    ctx.lineTo(area.left, area.top);
    ctx.lineTo(area.right, area.top);
    ctx.moveTo(area.left, area.bottom);
    ctx.lineTo(area.right, area.bottom);
    ctx.stroke();
    ctx.restore();
  }
};

new Chart(document.getElementById('map'), {
  type: 'scatter',
  data: {
    datasets: contours.map(line => ({
      data: line.map(p => ({ x: p[0], y: p[1] })),
      showLine: true,
      borderColor: '#000',
      borderWidth: 1.3,
      pointRadius: 0,
      tension: 0.35
    }))
  },
  plugins: [densityField],
  options: {
    responsive: false,
    animation: false,
    events: [],
    layout: { padding: { left: 0, right: 223, top: 0, bottom: 0 } },
    plugins: {
      legend: { display: false },
      tooltip: { enabled: false },
      title: {
        display: true,
        fullSize: false,
        text: 'Height 4.0 Rᵥ, Mid-date 2017/10/06',
        font: { size: 42, lineHeight: 1.2 },
        color: '#000',
        padding: { top: 33, bottom: 6.6 }
      }
    },
    scales: {
      x: {
        type: 'linear',
        min: -180.09,
        max: 179.45,
        afterBuildTicks: s => { s.ticks = lonTicks.map(v => ({ value: v })); },
        afterFit: s => { s.height = 135; },
        ticks: { font: { size: 32 }, padding: 24, maxRotation: 0, callback: v => String(v) },
        grid: { color: '#000', lineWidth: 1.5, z: 1, drawTicks: false },
        border: { dash: [8, 4], display: false },
        title: { display: true, text: 'Longitude', font: { size: 32 }, color: '#000', padding: { top: 0, bottom: 24 } }
      },
      y: {
        type: 'linear',
        min: -90.15,
        max: 89.93,
        afterBuildTicks: s => { s.ticks = latTicks.map(v => ({ value: v })); },
        afterFit: s => { s.width = 160; },
        ticks: { font: { size: 32 }, padding: 15, labelOffset: 4, callback: v => String(v) },
        grid: { color: '#000', lineWidth: 1.5, z: 1, drawTicks: false },
        border: { dash: [8, 4], display: false },
        title: { display: true, text: 'Latitude', font: { size: 32 }, color: '#000', padding: { top: 40, bottom: 0 } }
      }
    }
  }
});

const colorBar = {
  id: 'colorBar',
  beforeDatasetsDraw(chart) {
    const { ctx, chartArea: area, scales } = chart;
    for (let p = Math.round(area.top); p < Math.round(area.bottom); p++) {
      const rgb = colorAt(scales.y.getValueForPixel(p + 0.5));
      ctx.fillStyle = `rgb(${rgb[0]},${rgb[1]},${rgb[2]})`;
      ctx.fillRect(area.left, p, area.right - area.left, 1);
    }
  },
  afterDraw(chart) {
    const { ctx, chartArea: area } = chart;
    ctx.save();
    ctx.strokeStyle = '#000';
    ctx.lineWidth = 2;
    ctx.beginPath();
    ctx.moveTo(area.right, area.top);
    ctx.lineTo(area.right, area.bottom);
    ctx.stroke();
    const pieces = [['Density (10', 27, 0], ['5', 16, -11], [' cm', 27, 0], ['-3', 16, -11], [')', 27, 0]];
    ctx.translate(129, 832);
    ctx.rotate(-Math.PI / 2);
    ctx.fillStyle = '#000';
    let x = 0;
    pieces.forEach(p => {
      ctx.font = `bold ${p[1]}px "Liberation Serif"`;
      ctx.fillText(p[0], x, p[2]);
      x += ctx.measureText(p[0]).width;
    });
    ctx.restore();
  }
};

new Chart(document.getElementById('bar'), {
  type: 'scatter',
  data: { datasets: [{ data: barTicks.map(v => ({ x: 0, y: v })), pointRadius: 0 }] },
  plugins: [colorBar],
  options: {
    responsive: false,
    animation: false,
    events: [],
    layout: { padding: { left: 18, right: 0, top: 240, bottom: 285 } },
    plugins: { legend: { display: false }, tooltip: { enabled: false } },
    scales: {
      x: { display: false },
      y: {
        position: 'right',
        type: 'linear',
        min: 0.0176,
        max: 1.827,
        afterBuildTicks: s => { s.ticks = barTicks.map(v => ({ value: v })); },
        afterFit: s => { s.width = 159; },
        ticks: { font: { size: 27 }, padding: 11, labelOffset: 2, callback: v => v.toFixed(1) },
        grid: { display: false, drawTicks: false },
        border: { display: false }
      }
    }
  }
});
</script>
</body>
</html>
